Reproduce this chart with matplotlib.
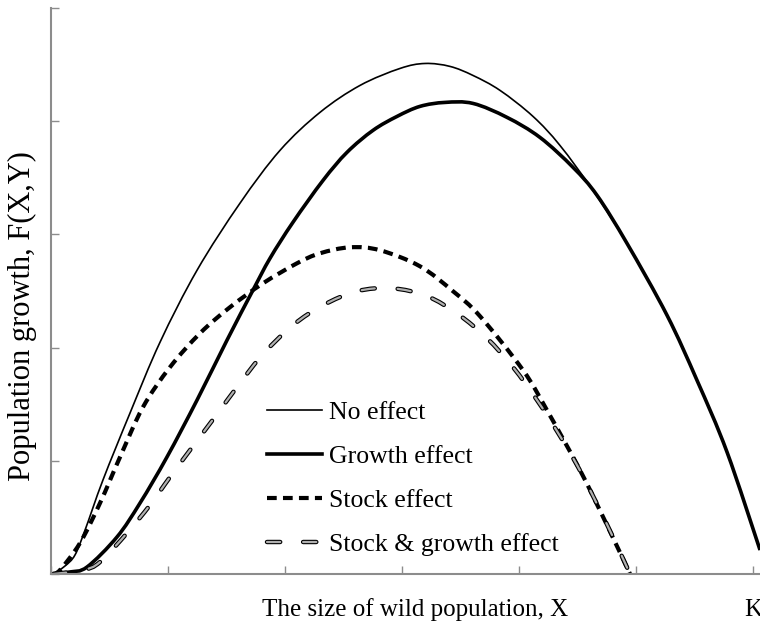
import numpy as np
import matplotlib
matplotlib.use('Agg')
import matplotlib.pyplot as plt
from matplotlib.lines import Line2D
from matplotlib.path import Path
from matplotlib.patches import PathPatch

plt.rcParams['font.family'] = ['Liberation Serif', 'DejaVu Serif']
plt.rcParams['lines.scale_dashes'] = False

# curves (x in units where K = 6)
x_none = [0.017, 0.120, 0.205, 0.291, 0.444, 0.675, 0.932, 1.248, 1.615, 1.957,
          2.299, 2.641, 2.983, 3.197, 3.410, 3.607, 3.838, 4.120, 4.350, 4.632,
          4.923, 5.265, 5.521, 5.778, 6.060]
y_none = [0.0, 0.071, 0.168, 0.388, 0.830, 1.421, 2.048, 2.683, 3.275, 3.742,
          4.078, 4.316, 4.466, 4.510, 4.484, 4.404, 4.272, 4.042, 3.786, 3.389,
          2.921, 2.286, 1.712, 1.077, 0.212]

x_growth = [0.017, 0.162, 0.308, 0.564, 0.761, 0.991, 1.248, 1.504, 1.726, 1.872,
            2.068, 2.325, 2.530, 2.752, 2.957, 3.154, 3.368, 3.607, 3.897, 4.179,
            4.462, 4.667, 4.923, 5.265, 5.521, 5.778, 6.060]
y_growth = [0.0, 0.018, 0.062, 0.327, 0.627, 1.033, 1.536, 2.065, 2.507, 2.789,
            3.107, 3.477, 3.725, 3.919, 4.042, 4.131, 4.166, 4.157, 4.034, 3.857,
            3.592, 3.345, 2.921, 2.286, 1.712, 1.077, 0.212]

x_stock = [0.017, 0.077, 0.248, 0.419, 0.590, 0.786, 1.017, 1.274, 1.530, 1.812,
           2.103, 2.299, 2.556, 2.812, 3.154, 3.436, 3.667, 4.034, 4.239, 4.521,
           4.752, 4.949]
y_stock = [0.0, 0.035, 0.274, 0.627, 1.033, 1.474, 1.827, 2.127, 2.357, 2.568,
           2.745, 2.833, 2.886, 2.860, 2.718, 2.498, 2.277, 1.801, 1.447, 0.918,
           0.432, 0.0]

x_both = [0.017, 0.274, 0.419, 0.650, 0.846, 1.017, 1.214, 1.419, 1.615, 1.812,
          2.068, 2.325, 2.615, 2.915, 3.214, 3.479, 3.726, 3.949, 4.154, 4.325,
          4.496, 4.650, 4.803, 4.949]
y_both = [0.0, 0.035, 0.106, 0.362, 0.609, 0.856, 1.130, 1.412, 1.686, 1.942,
          2.198, 2.374, 2.498, 2.524, 2.454, 2.295, 2.083, 1.827, 1.536, 1.262,
          0.962, 0.653, 0.327, 0.0]

labels = ['No effect', 'Growth effect', 'Stock effect', 'Stock & growth effect']
xtick_labels = ['', '', '', '', '', '', 'K']


def smooth_path(xs, ys):
    # bezier path through the points (catmull-rom style control points)
    p = np.column_stack([xs, ys])
    pp = np.vstack([p[0], p, p[-1]])
    verts = [p[0]]
    codes = [Path.MOVETO]
    for i in range(1, len(pp) - 2):
        c1 = pp[i] + (pp[i + 1] - pp[i - 1]) / 6
        c2 = pp[i + 1] - (pp[i + 2] - pp[i]) / 6
        verts += [c1, c2, pp[i + 1]]
        codes += [Path.CURVE4] * 3
    return Path(verts, codes)


def add_curve(ax, xs, ys, **kw):
    cap = kw.pop('capstyle', 'butt')
    patch = PathPatch(smooth_path(xs, ys), fill=False, joinstyle='round',
                      capstyle=cap, **kw)
    ax.add_patch(patch)


fig = plt.figure(figsize=(7.6, 6.31), dpi=100)
ax = fig.add_axes([51 / 760, 57 / 631, 6.15 * 117 / 760, 566 / 631])

add_curve(ax, x_none, y_none, edgecolor='black', lw=1.2)
add_curve(ax, x_growth, y_growth, edgecolor='black', lw=2.6)
add_curve(ax, x_stock, y_stock, edgecolor='black', lw=3.0,
          linestyle=(0, (7.0, 4.5)))
add_curve(ax, x_both, y_both, edgecolor='black', lw=3.2,
          linestyle=(0, (9.5, 16.5)), capstyle='round')
add_curve(ax, x_both, y_both, edgecolor='#b0b0b0', lw=1.6,
          linestyle=(0, (9.5, 16.5)), capstyle='round')

# legend proxies
h1 = Line2D([], [], color='black', lw=1.2)
h2 = Line2D([], [], color='black', lw=2.6)
h3 = Line2D([], [], color='black', lw=3.0, dashes=(7.0, 4.5))
h4a = Line2D([], [], color='black', lw=3.2, dashes=(9.5, 16.5), dash_capstyle='round')
h4b = Line2D([], [], color='#b0b0b0', lw=1.6, dashes=(9.5, 16.5), dash_capstyle='round')

ax.set_xlim(0, 6.15)
ax.set_ylim(0, 5)
ax.set_xticks(range(7))
ax.set_xticklabels(xtick_labels, fontsize=18)
ax.set_yticks(range(6))
ax.set_yticklabels([])
ax.tick_params(direction='in', length=6, width=1, color='#8c8c8c', pad=18)

for s in ['top', 'right']:
    ax.spines[s].set_visible(False)
for s in ['left', 'bottom']:
    ax.spines[s].set_color('#8c8c8c')
    ax.spines[s].set_linewidth(1.5)

ax.set_xlabel('The size of wild population, X', fontsize=18)
ax.xaxis.set_label_coords(0.506, -0.042)
ax.xaxis.label.set_va('top')
ax.set_ylabel('Population growth, F(X,Y)', fontsize=22)
ax.yaxis.set_label_coords(-0.02, 0.456)

ax.legend([h1, h2, h3, (h4a, h4b)], labels, frameon=False, fontsize=18.5,
          loc='upper left', bbox_to_anchor=(0.30, 0.306),
          handlelength=2.15, handletextpad=0.25, labelspacing=0.82,
          borderpad=0, borderaxespad=0)

fig.savefig('out.png', dpi=100)
